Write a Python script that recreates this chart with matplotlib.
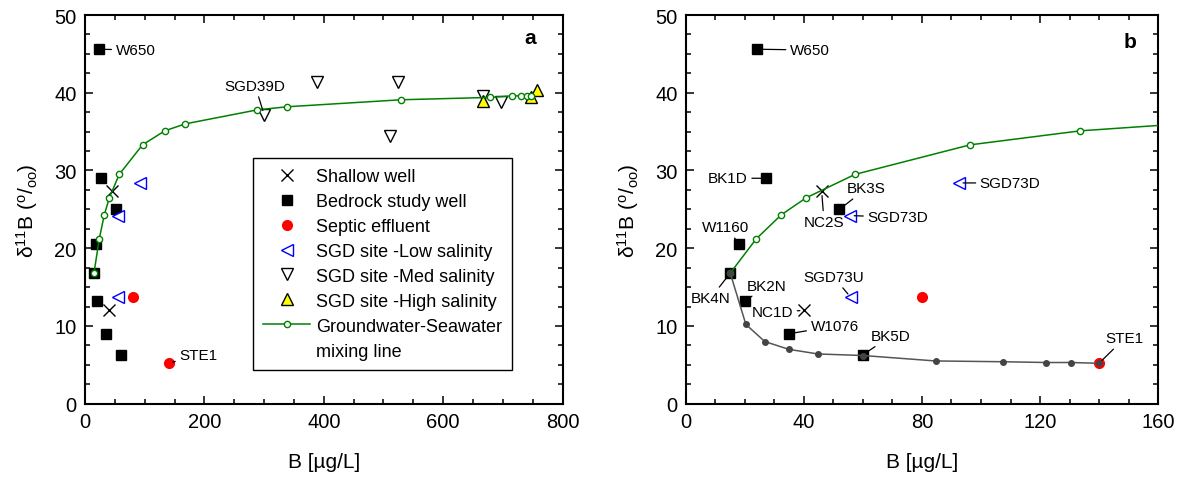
import matplotlib
matplotlib.use("Agg")
import matplotlib.pyplot as plt
from matplotlib.lines import Line2D
from matplotlib.ticker import MultipleLocator

plt.rcParams["font.family"] = ["Liberation Sans", "DejaVu Sans"]
plt.rcParams["mathtext.fontset"] = "custom"
plt.rcParams["mathtext.rm"] = "Liberation Sans"
plt.rcParams["mathtext.it"] = "Liberation Sans:italic"

# bedrock study wells
well_names = ["W650", "BK1D", "BK3S", "W1160", "BK4N", "BK2N", "W1076", "BK5D"]
well_b = [24, 27, 52, 18, 15, 20, 35, 60]
well_d = [45.6, 29.0, 25.0, 20.6, 16.8, 13.2, 9.0, 6.3]

# shallow wells
shallow_names = ["NC2S", "NC1D"]
shallow_b = [46, 40]
shallow_d = [27.3, 12.0]

# septic effluent
septic_names = ["STE1", ""]
septic_b = [140, 80]
septic_d = [5.2, 13.7]

# SGD sites
low_names = ["SGD73D", "SGD73U", "SGD73D"]
low_b = [55.6, 55.8, 92.5]
low_d = [24.2, 13.7, 28.4]

med_names = ["SGD39D", "", "", "", "", ""]
med_b = [300, 389, 524, 511, 697, 667]
med_d = [37.2, 41.4, 41.4, 34.4, 38.8, 39.6]

high_b = [666, 758, 747]
high_d = [39.0, 40.4, 39.4]

# groundwater - seawater mixing line
mix_b = [15, 23.8, 32.3, 40.8, 57.3, 96.3, 133.6, 168, 288.6, 339, 530, 678, 715, 731, 740, 747]
mix_d = [16.8, 21.2, 24.3, 26.5, 29.5, 33.3, 35.1, 36.0, 37.8, 38.2, 39.1, 39.4, 39.6, 39.6, 39.6, 39.6]

# groundwater - septic effluent mixing line
sep_b = [15, 20.3, 26.7, 34.8, 44.7, 60, 84.6, 107.4, 122.1, 130.5, 140]
sep_d = [16.8, 10.2, 8.0, 7.0, 6.4, 6.2, 5.5, 5.4, 5.3, 5.3, 5.2]

GREEN = "#008000"
BLUE = "#0000ff"
RED = "#ff0000"

fig = plt.figure(figsize=(11.86, 4.81), dpi=100)
ax1 = fig.add_axes([0.0717, 0.1586, 0.4026, 0.8081])
ax2 = fig.add_axes([0.5784, 0.1586, 0.3980, 0.8081])


def draw_points(ax, with_mixing_gray=False):
    ax.plot(shallow_b, shallow_d, "x", color="black", ms=8, mew=1.0, ls="none",
            label="Shallow well", zorder=3)
    ax.plot(well_b, well_d, "s", color="black", ms=6.5, ls="none",
            label="Bedrock study well", zorder=3)
    ax.plot(septic_b, septic_d, "o", color=RED, ms=7, ls="none",
            label="Septic effluent", zorder=3)
    ax.plot(low_b, low_d, "<", mfc="white", mec=BLUE, ms=9, mew=1.0, ls="none",
            label="SGD site -Low salinity", zorder=3)
    ax.plot(med_b, med_d, "v", mfc="white", mec="black", ms=8.5, mew=1.0, ls="none",
            label="SGD site -Med salinity", zorder=3)
    ax.plot(high_b, high_d, "^", mfc="#ffff00", mec="black", ms=8.5, mew=1.0, ls="none",
            label="SGD site -High salinity", zorder=3)
    ax.plot(mix_b, mix_d, "-o", color=GREEN, lw=1.1, ms=4.5, mfc="white", mec=GREEN,
            mew=1.0, label="Groundwater-Seawater", zorder=3.5)
    if with_mixing_gray:
        ax.plot(sep_b, sep_d, "-o", color="#555555", lw=1.1, ms=4, mfc="#444444",
                mec="#444444", zorder=3.5)


def label(ax, text, xy, xytext):
    ax.annotate(text, xy=xy, xytext=xytext, ha="center", va="center", fontsize=11,
                arrowprops=dict(arrowstyle="-", color="black", lw=0.9,
                                shrinkA=1, shrinkB=3), zorder=4)


def style(ax, xmax, xmajor, xminor):
    ax.set_xlim(0, xmax)
    ax.set_ylim(0, 50)
    ax.xaxis.set_major_locator(MultipleLocator(xmajor))
    ax.xaxis.set_minor_locator(MultipleLocator(xminor))
    ax.yaxis.set_major_locator(MultipleLocator(10))
    ax.yaxis.set_minor_locator(MultipleLocator(2.5))
    ax.tick_params(which="both", direction="in", top=True, right=True, width=1.1)
    ax.tick_params(which="major", length=6, labelsize=14.5, pad=6)
    ax.tick_params(which="minor", length=3.5)
    for sp in ax.spines.values():
        sp.set_linewidth(1.5)
    ax.set_xlabel("B [µg/L]", fontsize=15, labelpad=15)
    ax.set_ylabel(r"δ$^{11}$B ($^{\mathrm{o}}$/$_{\mathrm{oo}}$)", fontsize=15, labelpad=10)


# panel a
draw_points(ax1)
style(ax1, 800, 200, 50)
label(ax1, "W650", (well_b[0], well_d[0]), (84.6, 45.5))
label(ax1, med_names[0], (med_b[0], med_d[0]), (285, 40.9))
label(ax1, septic_names[0], (septic_b[0], septic_d[0]), (190, 6.3))
ax1.text(0.932, 0.943, "a", transform=ax1.transAxes, fontsize=15, fontweight="bold",
         ha="center", va="center")

h, l = ax1.get_legend_handles_labels()
h.append(Line2D([], [], color="none"))
l.append("mixing line")
leg = ax1.legend(h, l, loc="upper left",
                 bbox_to_anchor=(0.352, 0.632), borderaxespad=0, fancybox=False,
                 edgecolor="black", framealpha=1, fontsize=13, handlelength=2.6,
                 handletextpad=0.35, labelspacing=0.44, borderpad=0.55, numpoints=1)
leg.get_frame().set_linewidth(1.0)

# panel b
draw_points(ax2, with_mixing_gray=True)
style(ax2, 160, 40, 10)
well_text = [(42.0, 45.5), (14.2, 29.0), (61.2, 27.7), (13.4, 22.7),
             (8.4, 13.6), (27.4, 15.2), (50.4, 10.0), (69.4, 8.7)]
for name, b, d, xyt in zip(well_names, well_b, well_d, well_text):
    label(ax2, name, (b, d), xyt)
shallow_text = [(46.8, 23.4), (29.3, 11.8)]
for name, b, d, xyt in zip(shallow_names, shallow_b, shallow_d, shallow_text):
    label(ax2, name, (b, d), xyt)
low_text = [(71.8, 24.0), (50.1, 16.3), (109.9, 28.4)]
for name, b, d, xyt in zip(low_names, low_b, low_d, low_text):
    label(ax2, name, (b, d), xyt)
label(ax2, septic_names[0], (septic_b[0], septic_d[0]), (148.6, 8.4))
ax2.text(0.941, 0.933, "b", transform=ax2.transAxes, fontsize=15, fontweight="bold",
         ha="center", va="center")

fig.savefig("out.png", dpi=100)
